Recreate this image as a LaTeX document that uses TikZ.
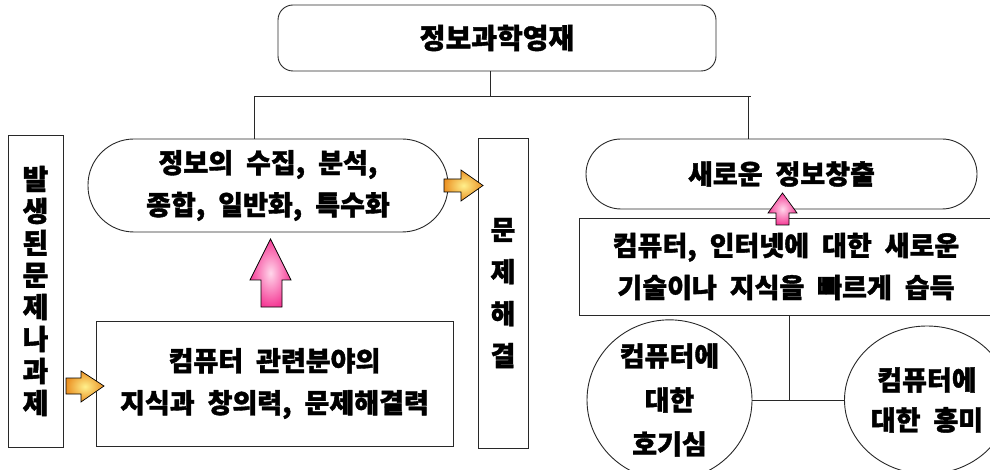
\documentclass[tikz,border=0pt]{standalone}
\usepackage{fontspec}
\newfontfamily\kr{Noto Sans CJK KR}[WordSpace=2.1, BoldFeatures={FakeBold=1.4}]
\usetikzlibrary{shapes.geometric}
\definecolor{orin}{RGB}{255,240,140}
\definecolor{orout}{RGB}{235,145,35}
\definecolor{pkin}{RGB}{255,215,235}
\definecolor{pkout}{RGB}{245,60,150}
\definecolor{ln}{RGB}{40,40,40}
\begin{document}
\begin{tikzpicture}[x=1pt,y=-1pt,
  box/.style={draw=ln, line width=0.9pt, inner sep=0pt, align=center},
  txt/.style={font=\kr\bfseries\fontsize{27}{42}\selectfont},
  conn/.style={draw=ln, line width=0.9pt},
  oarrow/.style={draw=black, line width=0.7pt, shading=radial, inner color=orin, outer color=orout},
  parrow/.style={draw=black, line width=0.7pt, shading=radial, inner color=pkin, outer color=pkout}]
\useasboundingbox (0,0) rectangle (990,470);
\clip (0,0) rectangle (990,470);
% title
\node[box, rounded corners=15pt, minimum width=438pt, minimum height=66pt, font=\kr\bfseries\fontsize{28}{30}\selectfont] (title) at (497,38) {정보과학영재};
% left vertical box
\node[box, minimum width=55pt, minimum height=312pt, font=\kr\bfseries\fontsize{28}{32}\selectfont] (prob) at (35.5,291) {발\\생\\된\\문\\제\\나\\과\\제};
% left stadium
\node[box, txt, rounded corners=46pt, minimum width=360pt, minimum height=93pt] (ls) at (268,185.5) {정보의 수집, 분석,\\종합, 일반화, 특수화};
% problem solving box
\node[box, minimum width=50pt, minimum height=310pt, font=\kr\bfseries\fontsize{27}{42}\selectfont] (solve) at (503,293) {문\\제\\해\\결};
% bottom left box
\node[box, txt, minimum width=357pt, minimum height=125pt] (know) at (274.5,383.5) {컴퓨터 관련분야의\\지식과 창의력, 문제해결력};
% right stadium
\node[box, txt, rounded corners=35pt, minimum width=391pt, minimum height=70pt] (rs) at (781.5,174) {새로운 정보창출};
% right rectangle
\node[box, txt, minimum width=414pt, minimum height=97pt] (learn) at (786,266.5) {컴퓨터, 인터넷에 대한 새로운\\기술이나 지식을 빠르게 습득};
% circles
\node[box, ellipse, minimum width=165pt, minimum height=148pt, font=\kr\bfseries\fontsize{27}{44}\selectfont] (cur) at (669.5,400) {컴퓨터에\\대한\\호기심};
\node[box, ellipse, minimum width=165pt, minimum height=148pt, font=\kr\bfseries\fontsize{27}{40}\selectfont] (int) at (927,400) {컴퓨터에\\대한 흥미};
% connectors
\coordinate (tj) at (490,96);
\coordinate (hl) at (254,96);
\coordinate (hr) at (751,96);
\coordinate (hr2) at (748,96);
\coordinate (j) at (789,400);
\draw[conn] (title.south -| tj) -- (tj);
\draw[conn] (hl) -- (hr);
\draw[conn] (hl) -- (ls.north -| hl);
\draw[conn] (hr2) -- (rs.north -| hr2);
\draw[conn] (cur.east) -- (int.west);
\draw[conn] (learn.south -| j) -- (j);
% arrows
\path[oarrow] (444,179) -- (461,179) -- (461,170) -- (483,185.5) -- (461,201) -- (461,192) -- (444,192) -- cycle;
\path[oarrow] (66,378) -- (81,378) -- (81,371) -- (104,386) -- (81,402) -- (81,394) -- (66,394) -- cycle;
\path[parrow] (261,307) -- (261,280) -- (250,280) -- (270.5,239) -- (291,280) -- (282,280) -- (282,307) -- cycle;
\path[parrow] (776,225) -- (776,213) -- (768,213) -- (782.5,193) -- (797,213) -- (789,213) -- (789,225) -- cycle;
\end{tikzpicture}
\end{document}
